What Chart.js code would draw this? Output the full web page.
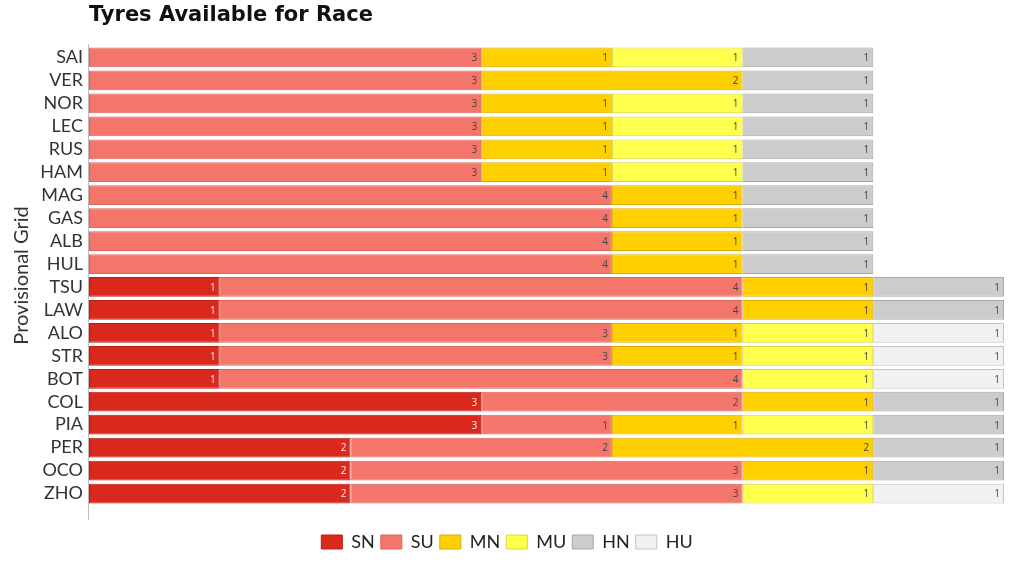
<!DOCTYPE html>
<html>
<head>
<meta charset="utf-8">
<script src="https://cdn.jsdelivr.net/npm/chart.js@4"></script>
<style>
  html, body { margin: 0; padding: 0; background: #fff; }
</style>
</head>
<body>
<canvas id="tyreChart" width="1024" height="576"></canvas>
<script>
// Datos
const drivers = ['SAI','VER','NOR','LEC','RUS','HAM','MAG','GAS','ALB','HUL',
                 'TSU','LAW','ALO','STR','BOT','COL','PIA','PER','OCO','ZHO'];
const compounds = ['SN','SU','MN','MU','HN','HU'];
const sn = [null,null,null,null,null,null,null,null,null,null, 1,1,1,1,1, 3,3,2,2,2];
const su = [3,3,3,3,3,3,4,4,4,4, 4,4,3,3,4, 2,1,2,3,3];
const mn = [1,2,1,1,1,1,1,1,1,1, 1,1,1,1,null, 1,1,2,1,null];
const mu = [1,null,1,1,1,1,null,null,null,null, null,null,1,1,1, null,1,null,null,1];
const hn = [1,1,1,1,1,1,1,1,1,1, 1,1,null,null,null, 1,1,1,1,null];
const hu = [null,null,null,null,null,null,null,null,null,null, null,null,1,1,1, null,null,null,null,1];
const xMax = 7;

const fills   = ['#da291c', '#f4766b', '#ffd000', '#ffff4d', '#cccccc', '#f1f1f1'];
const borders = ['#b81d12', '#d9665c', '#d9ad00', '#d6d63a', '#a8a8a8', '#c4c4c4'];
const labelColors = ['#f2f2f2', '#444', '#444', '#444', '#444', '#444'];

const seriesData = [sn, su, mn, mu, hn, hu];

// Etiquetas de valor al final de cada segmento
const valueLabels = {
    id: 'valueLabels',
    afterDatasetsDraw(chart) {
        const ctx = chart.ctx;
        ctx.save();
        ctx.font = '10px "Open Sans", sans-serif';
        ctx.textAlign = 'right';
        ctx.textBaseline = 'middle';
        chart.data.datasets.forEach((ds, i) => {
            const meta = chart.getDatasetMeta(i);
            ctx.fillStyle = labelColors[i];
            meta.data.forEach((bar, j) => {
                const v = ds.data[j];
                if (v == null) return;
                ctx.fillText(String(v), bar.x - 4, bar.y + 1);
            });
        });
        ctx.restore();
    }
};

const titleAndAxis = {
    id: 'titleAndAxis',
    afterDraw(chart) {
        const ctx = chart.ctx;
        const area = chart.chartArea;
        ctx.save();
        ctx.strokeStyle = '#bdbdbd';
        ctx.lineWidth = 1;
        ctx.beginPath();
        ctx.moveTo(area.left - 0.5, area.top - 2);
        ctx.lineTo(area.left - 0.5, area.bottom + 15);
        ctx.stroke();
        ctx.fillStyle = '#111';
        ctx.font = 'bold 21px "DejaVu Sans", sans-serif';
        ctx.textAlign = 'left';
        ctx.textBaseline = 'middle';
        ctx.fillText('Tyres Available for Race', area.left, 16);
        ctx.restore();
    }
};

const ctxTyres = document.getElementById('tyreChart').getContext('2d');
const tyreChart = new Chart(ctxTyres, {
    type: 'bar',
    data: {
        labels: drivers,
        datasets: compounds.map((name, i) => ({
            label: name,
            data: seriesData[i],
            backgroundColor: fills[i],
            borderColor: borders[i],
            borderWidth: 1,
            borderSkipped: false,
            barPercentage: 0.86,
            categoryPercentage: 1.0
        }))
    },
    options: {
        indexAxis: 'y',
        responsive: false,
        animation: false,
        layout: {
            padding: { top: 46, right: 20, bottom: 15, left: 10 }
        },
        scales: {
            x: {
                stacked: true,
                min: 0,
                max: xMax,
                border: { display: false },
                grid: { display: false },
                ticks: { display: false },
                afterFit(scale) { scale.height = 22; }
            },
            y: {
                stacked: true,
                border: { display: false },
                grid: { display: false },
                ticks: {
                    color: '#333',
                    padding: -2,
                    autoSkip: false,
                    font: { family: 'Lato, sans-serif', size: 18 }
                },
                title: {
                    display: true,
                    text: 'Provisional Grid',
                    color: '#333',
                    padding: 0,
                    font: { family: 'Lato, sans-serif', size: 20 }
                },
                afterFit(scale) { scale.width = 79; }
            }
        },
        plugins: {
            legend: {
                position: 'bottom',
                labels: {
                    boxWidth: 21,
                    boxHeight: 14,
                    padding: 6,
                    color: '#222',
                    font: { family: 'Lato, sans-serif', size: 18 }
                }
            },
            tooltip: { enabled: false }
        }
    },
    plugins: [valueLabels, titleAndAxis]
});
</script>
</body>
</html>
